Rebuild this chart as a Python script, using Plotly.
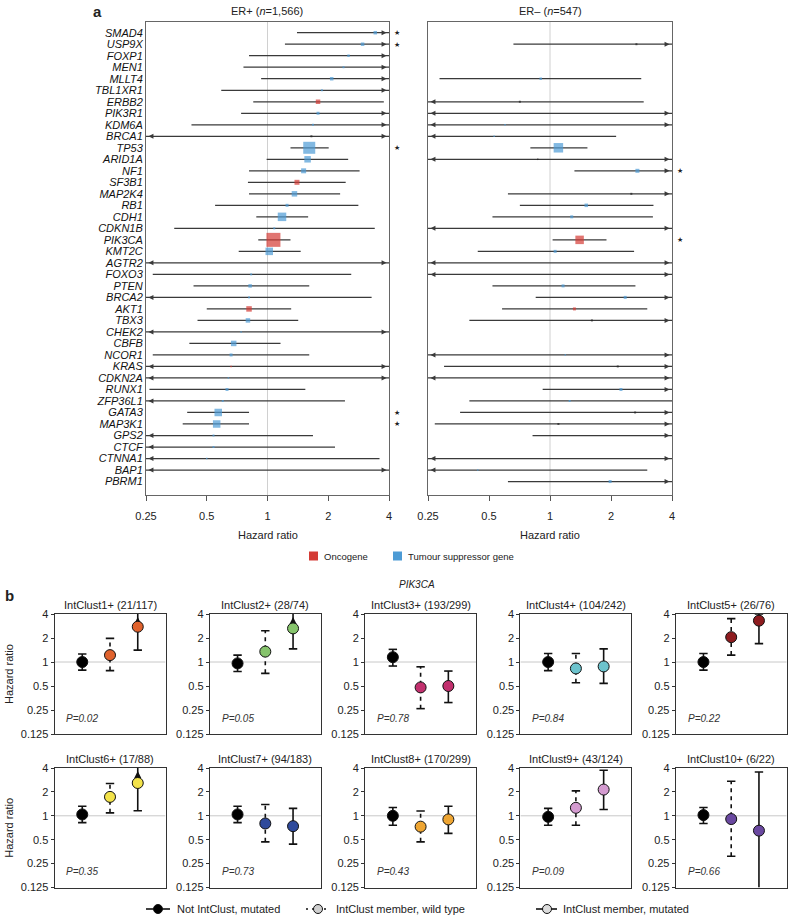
import math
import plotly.graph_objects as go

W, H = 788, 915
def fx(p): return p / W
def fy(p): return 1 - p / H

FONT = "Liberation Sans, Arial, sans-serif"

# ---------------- Panel a data ----------------
genes = ["SMAD4","USP9X","FOXP1","MEN1","MLLT4","TBL1XR1","ERBB2","PIK3R1","KDM6A","BRCA1",
         "TP53","ARID1A","NF1","SF3B1","MAP2K4","RB1","CDH1","CDKN1B","PIK3CA","KMT2C",
         "AGTR2","FOXO3","PTEN","BRCA2","AKT1","TBX3","CHEK2","CBFB","NCOR1","KRAS",
         "CDKN2A","RUNX1","ZFP36L1","GATA3","MAP3K1","GPS2","CTCF","CTNNA1","BAP1","PBRM1"]

# ER+ : hazard ratio, lower CI, upper CI, marker size, colour code (T tumour suppr., O oncogene, K black)
erp_hr = [3.42,2.96,2.52,2.38,2.08,1.86,1.78,1.78,1.68,1.65,
          1.61,1.58,1.51,1.40,1.36,1.25,1.18,1.08,1.07,1.02,
          None,0.83,0.82,0.81,0.81,0.80,0.74,0.68,0.66,0.66,
          0.64,0.63,0.60,0.57,0.56,0.54,0.54,0.50,None,None]
erp_lo = [1.40,1.22,0.81,0.76,0.93,0.59,0.85,0.74,0.42,0.20,
          1.30,0.99,0.81,0.80,0.81,0.55,0.88,0.345,0.90,0.72,
          0.15,0.27,0.43,0.20,0.50,0.45,0.15,0.41,0.27,0.10,
          0.10,0.26,0.20,0.40,0.38,0.15,0.15,0.10,0.10,None]
erp_hi = [5.5,5.5,6.0,6.0,5.0,6.0,3.77,5.0,6.0,8.0,
          2.01,2.51,2.86,2.44,2.29,2.82,1.59,3.40,1.30,1.46,
          8.0,2.60,1.61,3.28,1.31,1.42,8.0,1.16,1.61,10.0,
          10.0,1.54,2.42,0.81,0.81,1.68,2.16,3.59,10.0,None]
erp_size = [3.5,3.5,2.5,2,3.5,2,4.5,3,2,2,
            12,6.5,5,5,5.5,3,8.5,2,14,7.5,
            0,2,3.5,2,5.5,4.5,1.5,5.5,3,1.5,
            1.5,3,2,7.5,7.5,2,2,1.5,0,0]
erp_col = ["T","T","T","T","T","T","O","T","T","K",
           "T","T","T","O","T","T","T","T","O","T",
           "T","T","T","T","O","T","T","T","T","O",
           "T","T","T","T","T","T","T","T","T","T"]
erp_sig = ["SMAD4","USP9X","TP53","GATA3","MAP3K1"]

# ER-
ern_hr = [None,2.67,None,None,0.90,None,0.71,None,0.60,0.53,
          1.10,0.87,2.70,None,2.52,1.51,1.28,None,1.40,1.06,
          None,None,1.16,2.35,1.32,1.61,None,None,1.19,2.16,
          None,2.24,1.25,2.63,1.10,None,None,None,0.44,1.98]
ern_lo = [None,0.66,None,None,0.285,None,0.15,0.10,0.10,0.15,
          0.80,0.10,1.32,None,0.62,0.71,0.52,0.10,1.03,0.44,
          0.10,0.10,0.52,0.85,0.58,0.40,None,None,0.10,0.30,
          0.10,0.92,0.40,0.36,0.27,0.82,None,0.10,0.10,0.62]
ern_hi = [None,6.0,None,None,2.82,None,2.90,10.0,10.0,2.12,
          1.53,10.0,6.0,None,6.0,3.24,3.22,10.0,1.90,2.60,
          10.0,10.0,2.64,6.0,3.02,6.0,None,None,10.0,6.0,
          10.0,6.0,4.0,6.0,6.0,6.0,None,10.0,3.02,6.0]
ern_size = [0,2,0,0,2.5,0,2,0,1.5,1.5,
            9.5,1.5,4,0,2,3.5,3,0,8.5,3,
            0,0,3,3,3,2,0,0,1.5,2,
            0,3,2,2,2,0,0,0,1.5,3]
ern_col = ["T","K","T","T","T","T","K","T","T","T",
           "T","K","T","T","K","T","T","T","O","T",
           "T","T","T","T","O","K","T","T","T","K",
           "T","T","T","K","K","T","T","T","T","T"]
ern_sig = ["NF1","PIK3CA"]

COL = {"T": "#4d9bd5", "O": "#d43b35", "K": "#222222"}
xticks_a = [0.25, 0.5, 1, 2, 4]

# ---------------- Panel b data ----------------
clusters = ["IntClust1+ (21/117)","IntClust2+ (28/74)","IntClust3+ (193/299)","IntClust4+ (104/242)",
            "IntClust5+ (26/76)","IntClust6+ (17/88)","IntClust7+ (94/183)","IntClust8+ (170/299)",
            "IntClust9+ (43/124)","IntClust10+ (6/22)"]
clust_col = ["#e0622d","#86c46c","#c2306e","#6cc3cd","#8e1c1f",
             "#f3e34a","#2f4a9c","#eea532","#d49bd0","#6a48a0"]
pvals = ["0.02","0.05","0.78","0.84","0.22","0.35","0.73","0.43","0.09","0.66"]
ref_hr = [1.00,0.96,1.15,1.00,1.00,1.04,1.04,1.00,0.97,1.02]
ref_lo = [0.79,0.76,0.89,0.78,0.79,0.82,0.82,0.76,0.76,0.80]
ref_hi = [1.26,1.22,1.44,1.28,1.28,1.32,1.32,1.27,1.24,1.27]
wt_hr = [1.22,1.35,0.48,0.83,2.05,1.73,0.80,0.73,1.26,0.91]
wt_lo = [0.78,0.72,0.26,0.55,1.22,1.09,0.47,0.47,0.76,0.31]
wt_hi = [1.98,2.47,0.87,1.28,3.50,2.55,1.39,1.15,2.06,2.72]
mut_hr = [2.77,2.64,0.50,0.88,3.30,2.59,0.74,0.90,2.14,0.65]
mut_lo = [1.41,1.46,0.31,0.54,1.70,1.16,0.44,0.60,1.20,0.08]
mut_hi = [6.0,6.0,0.77,1.46,4.0,6.0,1.24,1.32,3.74,3.56]
yticks_b = [0.125, 0.25, 0.5, 1, 2, 4]

fig = go.Figure()
LINE = "#3a3a3a"

# ---------------- Panel a ----------------
n = len(genes)
Y0, Y1 = 40.17, -0.93
XMIN, XMAX = 0.25, 4.0
arrow_off = 2 ** (0.04)

def add_forest(hr, lo, hi, size, col, xa, ya):
    fig.add_trace(go.Scatter(x=[1, 1], y=[Y0, Y1], mode="lines", xaxis=xa, yaxis=ya,
                             line=dict(color="#d0d0d0", width=1), hoverinfo="skip"))
    ax_r, ay_r, ax_l, ay_l = [], [], [], []
    for i in range(n):
        if lo[i] is None:
            continue
        l = max(lo[i], XMIN)
        h = min(hi[i], XMAX)
        fig.add_trace(go.Scatter(x=[l, h], y=[i, i], mode="lines", xaxis=xa, yaxis=ya,
                                 line=dict(color=LINE, width=1.25), hoverinfo="skip"))
        if hi[i] > XMAX:
            ax_r.append(XMAX / arrow_off); ay_r.append(i)
        if lo[i] < XMIN:
            ax_l.append(XMIN * arrow_off); ay_l.append(i)
    fig.add_trace(go.Scatter(x=ax_r, y=ay_r, mode="markers", xaxis=xa, yaxis=ya,
                             marker=dict(symbol="arrow-right", size=5, color=LINE), hoverinfo="skip"))
    fig.add_trace(go.Scatter(x=ax_l, y=ay_l, mode="markers", xaxis=xa, yaxis=ya,
                             marker=dict(symbol="arrow-left", size=5, color=LINE), hoverinfo="skip"))
    px_, py_, ps_, pc_ = [], [], [], []
    for i in range(n):
        if hr[i] is None or size[i] == 0:
            continue
        px_.append(hr[i]); py_.append(i); ps_.append(size[i]); pc_.append(COL[col[i]])
    fig.add_trace(go.Scatter(x=px_, y=py_, mode="markers", xaxis=xa, yaxis=ya,
                             marker=dict(symbol="square", size=ps_, color=pc_, line=dict(width=0)),
                             hoverinfo="skip"))

add_forest(erp_hr, erp_lo, erp_hi, erp_size, erp_col, "x", "y")
add_forest(ern_hr, ern_lo, ern_hi, ern_size, ern_col, "x2", "y2")

axis_a_x = dict(type="log", range=[math.log10(XMIN), math.log10(XMAX)], tickvals=xticks_a,
                ticktext=[str(t) for t in xticks_a], ticks="outside", ticklen=5, tickcolor="#555",
                showline=True, mirror=True, linecolor="#666", linewidth=1, showgrid=False,
                zeroline=False, tickfont=dict(size=11, color="#222"), ticklabelstandoff=6,
                automargin=False)
fig.update_layout(
    xaxis=dict(axis_a_x, domain=[fx(146), fx(389)], anchor="y"),
    xaxis2=dict(axis_a_x, domain=[fx(428), fx(672)], anchor="y2"),
    yaxis=dict(range=[Y0, Y1], domain=[fy(495), fy(22)], anchor="x", tickvals=list(range(n)),
               ticktext=["<i>%s</i>" % g for g in genes], ticks="", showline=True, mirror=True,
               linecolor="#666", showgrid=False, zeroline=False, automargin=False,
               tickfont=dict(size=11, color="#111")),
    yaxis2=dict(range=[Y0, Y1], domain=[fy(495), fy(22)], anchor="x2", showticklabels=False,
                ticks="", showline=True, mirror=True, linecolor="#666", showgrid=False,
                zeroline=False, automargin=False),
)

ann = []
for g in erp_sig:
    ann.append(dict(x=fx(397), xref="paper", y=genes.index(g), yref="y", text="★",
                    font=dict(size=7, color="#222")))
for g in ern_sig:
    ann.append(dict(x=fx(680), xref="paper", y=genes.index(g), yref="y2", text="★",
                    font=dict(size=7, color="#222")))
ann += [
    dict(x=fx(97), y=fy(11), text="<b>a</b>", font=dict(size=15)),
    dict(x=fx(267), y=fy(11), text="ER+ (<i>n</i>=1,566)", font=dict(size=11)),
    dict(x=fx(550), y=fy(11), text="ER– (<i>n</i>=547)", font=dict(size=11)),
    dict(x=fx(268), y=fy(535), text="Hazard ratio", font=dict(size=11)),
    dict(x=fx(550), y=fy(535), text="Hazard ratio", font=dict(size=11)),
    dict(x=fx(322), y=fy(556), text="Oncogene", xanchor="left", font=dict(size=9.5)),
    dict(x=fx(406), y=fy(556), text="Tumour suppressor gene", xanchor="left", font=dict(size=9.5)),
    dict(x=fx(3), y=fy(595), text="<b>b</b>", xanchor="left", font=dict(size=15)),
    dict(x=fx(417), y=fy(584), text="<i>PIK3CA</i>", font=dict(size=10)),
]
shapes = [
    dict(type="rect", xref="paper", yref="paper", x0=fx(309), x1=fx(318), y0=fy(560.5), y1=fy(551.5),
         fillcolor=COL["O"], line=dict(width=0)),
    dict(type="rect", xref="paper", yref="paper", x0=fx(393), x1=fx(402), y0=fy(560.5), y1=fy(551.5),
         fillcolor=COL["T"], line=dict(width=0)),
]

# ---------------- Panel b ----------------
BW = 111
lefts = [54.5 + 155.3 * k for k in range(5)]
rows = [(614, 734), (768, 887.5)]
YMIN_B, YMAX_B = 0.125, 4.0
up_off = 2 ** (3 / 24)

def errbar(xa, ya, x, lo, hi, dash, width):
    l = max(lo, YMIN_B)
    h = min(hi, YMAX_B)
    fig.add_trace(go.Scatter(x=[x, x], y=[l, h], mode="lines", xaxis=xa, yaxis=ya,
                             line=dict(color="#111", width=width, dash=dash), hoverinfo="skip"))
    cx, cy = [], []
    if lo >= YMIN_B:
        cx.append(x); cy.append(lo)
    if hi <= YMAX_B:
        cx.append(x); cy.append(hi)
    fig.add_trace(go.Scatter(x=cx, y=cy, mode="markers", xaxis=xa, yaxis=ya,
                             marker=dict(symbol="line-ew", size=6, line=dict(color="#111", width=1.6)),
                             hoverinfo="skip"))
    if hi > YMAX_B:
        fig.add_trace(go.Scatter(x=[x], y=[YMAX_B / up_off], mode="markers", xaxis=xa, yaxis=ya,
                                 marker=dict(symbol="arrow-up", size=7, color="#111"), hoverinfo="skip"))

for k in range(10):
    r, c = divmod(k, 5)
    ai = k + 3
    xa, ya = "x%d" % ai, "y%d" % ai
    top, bot = rows[r]
    L = lefts[c]
    fig.add_trace(go.Scatter(x=[0, 4], y=[1, 1], mode="lines", xaxis=xa, yaxis=ya,
                             line=dict(color="#c8c8c8", width=1), hoverinfo="skip"))
    errbar(xa, ya, 1, ref_lo[k], ref_hi[k], "solid", 1.6)
    errbar(xa, ya, 2, wt_lo[k], wt_hi[k], "4px,4px", 1.6)
    errbar(xa, ya, 3, mut_lo[k], mut_hi[k], "solid", 1.6)
    fig.add_trace(go.Scatter(x=[1, 2, 3], y=[ref_hr[k], wt_hr[k], mut_hr[k]], mode="markers",
                             xaxis=xa, yaxis=ya,
                             marker=dict(size=11, color=["#000000", clust_col[k], clust_col[k]],
                                         line=dict(color="#111", width=1)), hoverinfo="skip"))
    fig.layout["xaxis%d" % ai] = dict(domain=[fx(L), fx(L + BW)], range=[0, 4], anchor=ya,
                                      showline=True, mirror=True, linecolor="#333", linewidth=1,
                                      showticklabels=False, ticks="", showgrid=False, zeroline=False,
                                      automargin=False)
    fig.layout["yaxis%d" % ai] = dict(domain=[fy(bot), fy(top)], type="log",
                                      range=[math.log10(YMIN_B), math.log10(YMAX_B)], anchor=xa,
                                      tickvals=yticks_b, ticktext=[str(t) for t in yticks_b],
                                      ticks="outside", ticklen=3, tickcolor="#333",
                                      showline=True, mirror=True, linecolor="#333", linewidth=1,
                                      showgrid=False, zeroline=False, automargin=False,
                                      tickfont=dict(size=11, color="#222"))
    ann.append(dict(x=fx(L + BW / 2), y=fy(top - 9), text=clusters[k], font=dict(size=11)))
    ann.append(dict(x=0.09, xref="x%d domain" % ai, y=0.13, yref="y%d domain" % ai,
                    text="<i>P=%s</i>" % pvals[k], xanchor="left",
                    font=dict(size=10, color="#333")))

for top, bot in rows:
    ann.append(dict(x=fx(9), y=fy((top + bot) / 2), text="Hazard ratio", textangle=-90,
                    font=dict(size=11)))

# bottom legend
LY = 909
def circ(cx, r, fill):
    return dict(type="circle", xref="paper", yref="paper", x0=fx(cx - r), x1=fx(cx + r),
                y0=fy(LY + r), y1=fy(LY - r), fillcolor=fill, line=dict(color="#111", width=1))
shapes += [
    dict(type="line", xref="paper", yref="paper", x0=fx(146), x1=fx(170), y0=fy(LY), y1=fy(LY),
         line=dict(color="#111", width=1.6)),
    circ(158, 4.5, "#000"),
    dict(type="line", xref="paper", yref="paper", x0=fx(306), x1=fx(330), y0=fy(LY), y1=fy(LY),
         line=dict(color="#111", width=1.4, dash="2px,4px")),
    circ(318, 4.5, "#cfcfcf"),
    dict(type="line", xref="paper", yref="paper", x0=fx(536), x1=fx(557), y0=fy(LY), y1=fy(LY),
         line=dict(color="#111", width=1.6)),
    circ(547, 4.5, "#dcdcdc"),
]
ann += [
    dict(x=fx(175), y=fy(LY), text="Not IntClust, mutated", xanchor="left", font=dict(size=11)),
    dict(x=fx(334), y=fy(LY), text="IntClust member, wild type", xanchor="left", font=dict(size=11)),
    dict(x=fx(561), y=fy(LY), text="IntClust member, mutated", xanchor="left", font=dict(size=11)),
]

for a in ann:
    a.setdefault("xref", "paper")
    a.setdefault("yref", "paper")
    a.setdefault("showarrow", False)
    a.setdefault("xanchor", "center")
    a.setdefault("yanchor", "middle")

fig.update_layout(template="none", width=W, height=H, margin=dict(l=0, r=0, t=0, b=0, pad=0),
                  paper_bgcolor="white", plot_bgcolor="white", showlegend=False,
                  font=dict(family=FONT, color="#222"), annotations=ann, shapes=shapes)

fig.write_html("out.html", config={"displayModeBar": False},
               post_script="document.body.style.margin='0px';")
